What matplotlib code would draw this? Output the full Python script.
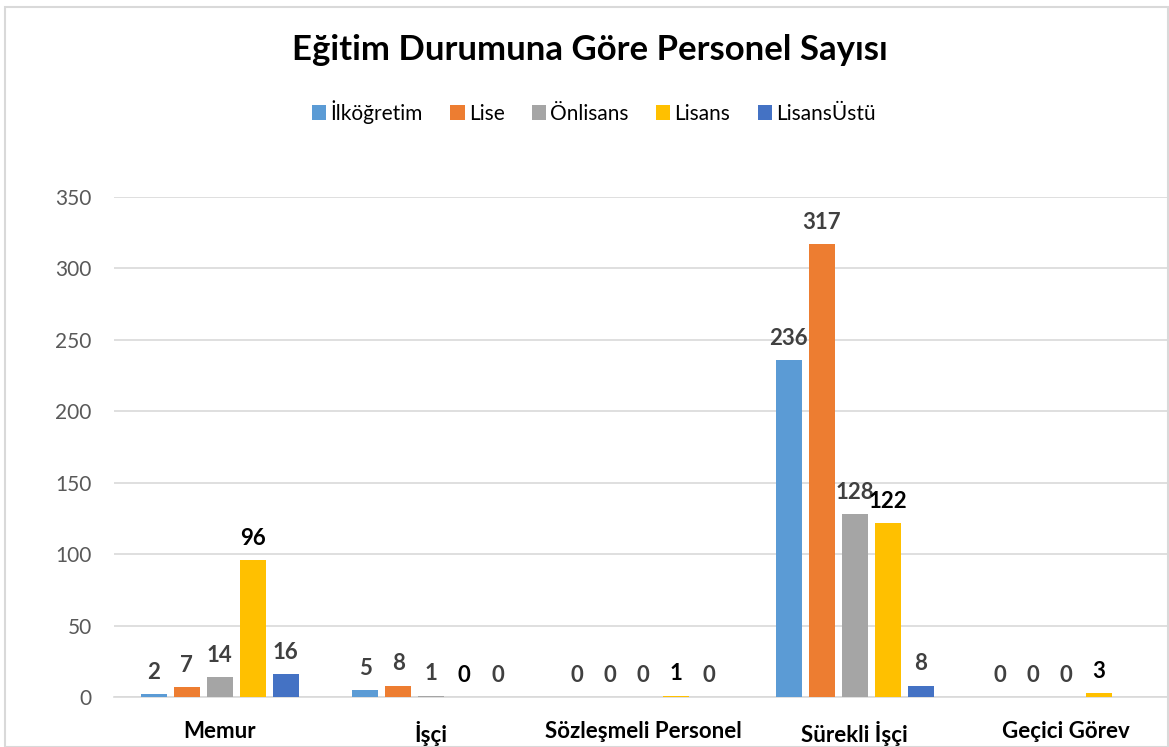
import matplotlib.pyplot as plt
import numpy as np
from matplotlib.patches import Rectangle

plt.rcParams['font.family'] = ['Lato', 'DejaVu Sans']

categories = ["Memur", "İşçi", "Sözleşmeli Personel", "Sürekli İşçi", "Geçici Görev"]
series_names = ["İlköğretim", "Lise", "Önlisans", "Lisans", "LisansÜstü"]
ilkogretim = [2, 5, 0, 236, 0]
lise = [7, 8, 0, 317, 0]
onlisans = [14, 1, 0, 128, 0]
lisans = [96, 0, 1, 122, 3]
lisansustu = [16, 0, 0, 8, None]

colors = ["#5b9bd5", "#ed7d31", "#a5a5a5", "#ffc000", "#4472c4"]
label_colors = ["#404040", "#404040", "#404040", "#000000", "#404040"]

fig = plt.figure(figsize=(11.69, 7.47), dpi=100)
ax = fig.add_axes([0.0975, 0.067, 0.905, 0.6693])

x = np.arange(len(categories))
width = 0.123
step = 0.156
all_series = [ilkogretim, lise, onlisans, lisans, lisansustu]
for i, (name, vals) in enumerate(zip(series_names, all_series)):
    offs = (i - 2) * step
    v = [0 if val is None else val for val in vals]
    ax.bar(x + offs, v, width, color=colors[i], label=name, zorder=3)
    for j, val in enumerate(vals):
        if val is None:
            continue
        ax.annotate(str(val), (x[j] + offs, val), xytext=(0, 8), textcoords="offset points",
                    ha="center", va="bottom", fontsize=16, fontweight="bold",
                    color=label_colors[i])

ax.set_xlim(-0.5, 4.5)
ax.set_ylim(0, 350)
ax.set_yticks(range(0, 351, 50))
ax.set_xticks(x)
ax.set_xticklabels(categories, fontsize=16, fontweight="bold", color="#000000")
ax.tick_params(axis="x", length=0, pad=17)
ax.tick_params(axis="y", length=0, pad=16, labelsize=15, labelcolor="#595959")
ax.grid(axis="y", color="#d9d9d9", linewidth=1.2, zorder=0)
for s in ["top", "right", "left"]:
    ax.spines[s].set_visible(False)
ax.spines["bottom"].set_color("#d9d9d9")
ax.spines["bottom"].set_linewidth(1.2)

fig.text(0.505, 0.933, "Eğitim Durumuna Göre Personel Sayısı", ha="center", va="center",
         fontsize=25, fontweight="bold", color="#000000")
fig.legend(loc="center", bbox_to_anchor=(0.508, 0.85), ncol=5, frameon=False,
           fontsize=15, handlelength=0.7, handleheight=0.7, handletextpad=0.2,
           columnspacing=1.3)

fig.patches.append(Rectangle((0.004, 0.0), 0.995, 0.99, transform=fig.transFigure,
                             fill=False, edgecolor="#d9d9d9", linewidth=1.5))

fig.savefig("out.png", dpi=100)
